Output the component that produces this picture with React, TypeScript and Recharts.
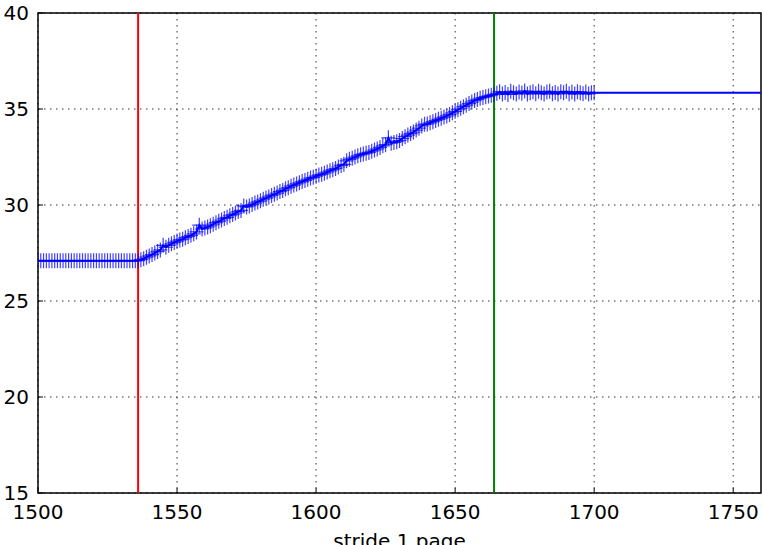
import {
  LineChart,
  Line,
  XAxis,
  YAxis,
  CartesianGrid,
  ReferenceLine,
  ReferenceArea,
} from "recharts";

// first stride of the sweep, one sample per stride up to 1700
const strideStart = 1500;

const measured = [
  // 1500 - 1535 flat
  27.1, 27.1, 27.1, 27.1, 27.1, 27.1, 27.1, 27.1, 27.1, 27.1,
  27.1, 27.1, 27.1, 27.1, 27.1, 27.1, 27.1, 27.1, 27.1, 27.1,
  27.1, 27.1, 27.1, 27.1, 27.1, 27.1, 27.1, 27.1, 27.1, 27.1,
  27.1, 27.1, 27.1, 27.1, 27.1, 27.1,
  // 1536 - 1599
  27.1, 27.15, 27.2, 27.28, 27.35, 27.42, 27.5, 27.58, 27.66, 27.9,
  27.8, 27.9, 27.98, 28.05, 28.12, 28.18, 28.22, 28.3, 28.36, 28.42,
  28.5, 28.6, 28.95, 28.75, 28.8, 28.86, 28.92, 29.0, 29.08, 29.15,
  29.22, 29.3, 29.36, 29.44, 29.5, 29.58, 29.66, 29.72, 29.95, 29.9,
  29.95, 30.02, 30.1, 30.16, 30.22, 30.3, 30.36, 30.42, 30.5, 30.56,
  30.62, 30.7, 30.76, 30.84, 30.9, 30.98, 31.04, 31.1, 31.16, 31.22,
  31.28, 31.34, 31.4, 31.44,
  // 1600 - 1664
  31.5, 31.56, 31.6, 31.66, 31.72, 31.78, 31.84, 31.9, 31.98, 32.06,
  32.12, 32.3, 32.38, 32.44, 32.5, 32.56, 32.62, 32.66, 32.7, 32.74,
  32.8, 32.86, 32.92, 33.0, 33.08, 33.14, 33.5, 33.22, 33.26, 33.3,
  33.36, 33.46, 33.56, 33.64, 33.72, 33.8, 33.9, 34.0, 34.12, 34.2,
  34.22, 34.28, 34.34, 34.4, 34.46, 34.52, 34.58, 34.64, 34.72, 34.8,
  34.88, 34.96, 35.04, 35.12, 35.2, 35.28, 35.36, 35.44, 35.5, 35.56,
  35.6, 35.64, 35.68, 35.72, 35.76,
  // 1665 - 1700 plateau
  35.82, 35.9, 35.78, 35.86, 35.76, 35.92, 35.84, 35.78, 35.88, 35.82,
  35.94, 35.78, 35.85, 35.9, 35.8, 35.92, 35.84, 35.78, 35.88, 35.92,
  35.8, 35.86, 35.78, 35.9, 35.84, 35.92, 35.8, 35.88, 35.78, 35.9,
  35.84, 35.8, 35.88, 35.78, 35.84, 35.85,
];

// fitted plateau carried past the last sample
const tailStrides = [1700, 1760];
const tailValues = [35.85, 35.85];

const kneeStart = 1536;
const kneeEnd = 1664;

const xTicks = [1500, 1550, 1600, 1650, 1700, 1750];
const yTicks = [15, 20, 25, 30, 35, 40];

const measuredRows = measured.map((v, i) => ({ stride: strideStart + i, value: v }));
const tailRows = tailStrides.map((s, i) => ({ stride: s, value: tailValues[i] }));

const FONT = "'DejaVu Sans', sans-serif";

const PlusDot = (props: any) => {
  const { cx, cy, index } = props;
  if (cx == null || cy == null) return <g key={`p-${index}`} />;
  return (
    <path
      key={`p-${index}`}
      d={`M${cx - 7},${cy}h14M${cx},${cy - 7.5}v15`}
      stroke="#0000ff"
      strokeOpacity={0.75}
      strokeWidth={1.2}
      fill="none"
    />
  );
};

export default function App() {
  return (
    <div style={{ position: "absolute", left: 0, top: 0, background: "#fff" }}>
      <LineChart
        width={762}
        height={545}
        margin={{ top: 13, right: 1, bottom: 0, left: 0 }}
      >
        <CartesianGrid
          stroke="#000"
          strokeDasharray="1.5 4.5"
          strokeWidth={1}
          strokeOpacity={0.8}
          horizontalValues={yTicks}
          verticalValues={xTicks}
        />
        <XAxis
          dataKey="stride"
          type="number"
          domain={[1500, 1760]}
          ticks={xTicks}
          allowDataOverflow
          height={52}
          tickSize={-5}
          tickMargin={17}
          axisLine={false}
          tickLine={{ stroke: "#000" }}
          tick={{ fill: "#000", fontSize: 20, fontFamily: FONT }}
          label={{
            value: "stride 1 page",
            position: "insideBottom",
            offset: -3,
            fill: "#000",
            fontSize: 20,
            fontFamily: FONT,
          }}
        />
        <XAxis
          xAxisId="top"
          orientation="top"
          dataKey="stride"
          type="number"
          domain={[1500, 1760]}
          ticks={xTicks}
          allowDataOverflow
          height={0}
          tickSize={-5}
          axisLine={false}
          tickLine={{ stroke: "#000" }}
          tickFormatter={() => ""}
        />
        <YAxis
          type="number"
          domain={[15, 40]}
          ticks={yTicks}
          allowDataOverflow
          width={38}
          tickSize={-5}
          tickMargin={14}
          axisLine={false}
          tickLine={{ stroke: "#000" }}
          tick={{ fill: "#000", fontSize: 20, fontFamily: FONT }}
        />
        <YAxis
          yAxisId="right"
          orientation="right"
          type="number"
          domain={[15, 40]}
          ticks={yTicks}
          allowDataOverflow
          width={0}
          tickSize={-5}
          axisLine={false}
          tickLine={{ stroke: "#000" }}
          tickFormatter={() => ""}
        />
        <ReferenceLine x={kneeStart} stroke="#ff0000" strokeWidth={2} />
        <ReferenceLine x={kneeEnd} stroke="#008000" strokeWidth={2} />
        <Line
          data={tailRows}
          dataKey="value"
          type="linear"
          stroke="#0000ff"
          strokeWidth={2}
          dot={false}
          activeDot={false}
          isAnimationActive={false}
        />
        <Line
          data={measuredRows}
          dataKey="value"
          type="linear"
          stroke="#0000ff"
          strokeWidth={2}
          dot={PlusDot}
          activeDot={false}
          isAnimationActive={false}
        />
        <ReferenceArea
          x1={1500}
          x2={1760}
          y1={15}
          y2={40}
          fill="none"
          stroke="#000"
          strokeWidth={1.5}
          ifOverflow="visible"
        />
      </LineChart>
    </div>
  );
}
